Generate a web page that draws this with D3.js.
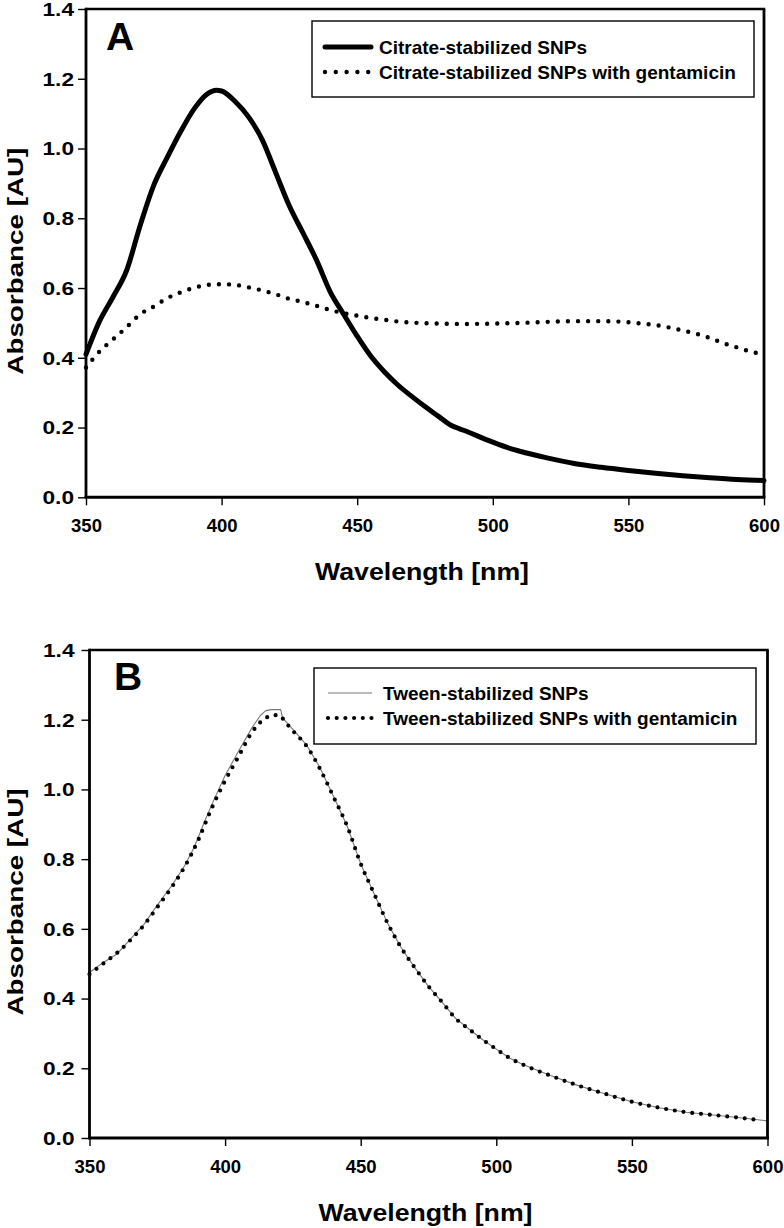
<!DOCTYPE html>
<html>
<head>
<meta charset="utf-8">
<script src="https://cdn.jsdelivr.net/npm/d3@7"></script>
<style>
  html, body { margin: 0; padding: 0; background: #fff; }
  svg text { font-family: "Liberation Sans", Arial, Helvetica, sans-serif; font-weight: bold; fill: #000; }
</style>
</head>
<body>
<svg id="chart" width="784" height="1228"></svg>
<script>
// ---------- Data ----------
const xTickValues = [350, 400, 450, 500, 550, 600];
const yTickValues = [0, 0.2, 0.4, 0.6, 0.8, 1.0, 1.2, 1.4];
const yTickLabels = ["0.0", "0.2", "0.4", "0.6", "0.8", "1.0", "1.2", "1.4"];

// Panel A: Citrate-stabilized SNPs
const citrateWl  = [350, 355, 360, 365, 370, 375, 380, 385, 390, 395, 398, 400, 405, 410, 415, 420, 425, 430, 435, 440, 445, 450, 455, 460, 465, 470, 475, 480, 484, 490, 500, 506, 510, 520, 530, 540, 550, 560, 570, 580, 590, 600];
const citrateAbs = [0.41, 0.505, 0.575, 0.651, 0.78, 0.895, 0.975, 1.05, 1.115, 1.158, 1.167, 1.165, 1.135, 1.09, 1.025, 0.93, 0.835, 0.758, 0.68, 0.59, 0.525, 0.462, 0.405, 0.36, 0.322, 0.29, 0.26, 0.232, 0.209, 0.19, 0.158, 0.141, 0.132, 0.113, 0.097, 0.086, 0.077, 0.069, 0.062, 0.056, 0.051, 0.048];

// Panel A: Citrate-stabilized SNPs with gentamicin
const citrateGentWl  = [350, 355, 360, 365, 370, 375, 380, 385, 390, 395, 400, 405, 410, 415, 420, 425, 430, 435, 440, 445, 450, 455, 460, 465, 470, 480, 490, 500, 510, 520, 530, 540, 550, 555, 560, 565, 570, 575, 580, 585, 590, 595, 600];
const citrateGentAbs = [0.372, 0.418, 0.453, 0.488, 0.525, 0.547, 0.571, 0.588, 0.601, 0.609, 0.611, 0.609, 0.602, 0.593, 0.582, 0.569, 0.560, 0.549, 0.537, 0.528, 0.521, 0.514, 0.509, 0.504, 0.501, 0.498, 0.497, 0.498, 0.500, 0.503, 0.505, 0.505, 0.502, 0.498, 0.494, 0.487, 0.478, 0.469, 0.457, 0.442, 0.430, 0.418, 0.410];

// Panel B: Tween-stabilized SNPs
const tweenWl  = [350, 355, 360, 365, 370, 375, 378, 380, 385, 388, 390, 392, 395, 400, 405, 410, 413, 415, 417, 420.5, 421.2, 425, 430, 435, 440, 445, 450, 455, 460, 465, 470, 475, 480, 485, 490, 495, 500, 505, 510, 520, 530, 540, 550, 560, 570, 580, 590, 600];
const tweenAbs = [0.475, 0.503, 0.527, 0.570, 0.612, 0.668, 0.700, 0.720, 0.780, 0.825, 0.860, 0.900, 0.955, 1.040, 1.110, 1.178, 1.212, 1.226, 1.229, 1.229, 1.205, 1.172, 1.128, 1.062, 0.980, 0.895, 0.787, 0.700, 0.615, 0.545, 0.488, 0.435, 0.390, 0.343, 0.312, 0.282, 0.255, 0.229, 0.210, 0.179, 0.151, 0.127, 0.104, 0.087, 0.074, 0.066, 0.058, 0.049];

// Panel B: Tween-stabilized SNPs with gentamicin
const tweenGentWl  = [350, 355, 360, 365, 370, 375, 380, 385, 390, 395, 400, 405, 410, 415, 418, 420, 422, 425, 430, 435, 440, 445, 450, 455, 460, 465, 470, 475, 480, 485, 490, 495, 500, 505, 510, 520, 530, 540, 550, 560, 570, 580, 590, 598];
const tweenGentAbs = [0.470, 0.500, 0.530, 0.567, 0.610, 0.662, 0.716, 0.777, 0.853, 0.945, 1.025, 1.095, 1.165, 1.205, 1.213, 1.213, 1.195, 1.168, 1.125, 1.059, 0.978, 0.895, 0.787, 0.700, 0.615, 0.545, 0.488, 0.435, 0.390, 0.343, 0.312, 0.282, 0.255, 0.229, 0.210, 0.179, 0.151, 0.127, 0.104, 0.087, 0.074, 0.066, 0.058, 0.050];

const legendA = ["Citrate-stabilized SNPs", "Citrate-stabilized SNPs with gentamicin"];
const legendB = ["Tween-stabilized SNPs", "Tween-stabilized SNPs with gentamicin"];

const zip = (xs, ys) => xs.map((x, i) => ({ x: x, y: ys[i] }));

// ---------- Drawing ----------
const svg = d3.select("#chart");

function drawPanel(cfg) {
  const g = svg.append("g");
  const x = d3.scaleLinear().domain([350, 600]).range([cfg.left, cfg.right]);
  const y = d3.scaleLinear().domain([0, 1.4]).range([cfg.bottom, cfg.top]);

  // Series
  cfg.series.forEach(s => {
    const line = d3.line().x(d => x(d.x)).y(d => y(d.y)).curve(s.curve);
    g.append("path")
      .datum(zip(s.wl, s.abs))
      .attr("d", line)
      .attr("fill", "none")
      .attr("stroke", s.color)
      .attr("stroke-width", s.width)
      .attr("stroke-linecap", s.cap)
      .attr("stroke-linejoin", "round")
      .attr("stroke-dasharray", s.dash);
  });

  // Frame: top and right
  g.append("line").attr("x1", cfg.left).attr("x2", cfg.right + 1.2)
    .attr("y1", cfg.top).attr("y2", cfg.top).attr("stroke", "#000").attr("stroke-width", 2.6);
  g.append("line").attr("x1", cfg.right).attr("x2", cfg.right)
    .attr("y1", cfg.top).attr("y2", cfg.bottom).attr("stroke", "#000").attr("stroke-width", 2.8);

  // Y axis
  const yAxis = d3.axisLeft(y).tickValues(yTickValues).tickSize(8)
    .tickFormat((d, i) => yTickLabels[i]);
  const ya = g.append("g").attr("transform", `translate(${cfg.left},0)`).call(yAxis);
  ya.select(".domain").attr("stroke", "#000").attr("stroke-width", 2.8)
    .attr("d", `M0,${cfg.top - 1.3}V${cfg.bottom}`);
  ya.selectAll(".tick line").attr("stroke", "#000").attr("stroke-width", 1.4);
  ya.selectAll(".tick text")
    .attr("x", -cfg.yLabelGap)
    .attr("dy", "0.36em")
    .attr("textLength", 31.5)
    .attr("lengthAdjust", "spacingAndGlyphs")
    .style("font-size", "17.5px");

  // X axis
  const xAxis = d3.axisBottom(x).tickValues(xTickValues).tickSize(8).tickFormat(d3.format("d"));
  const xa = g.append("g").attr("transform", `translate(0,${cfg.bottom})`).call(xAxis);
  xa.select(".domain").attr("stroke", "#000").attr("stroke-width", 3)
    .attr("d", `M${cfg.left - 1.4},0H${cfg.right + 1.4}`);
  xa.selectAll(".tick line").attr("stroke", "#000").attr("stroke-width", 1.4);
  xa.selectAll(".tick text")
    .attr("y", 35)
    .attr("dy", 0)
    .style("font-size", "18.5px");

  // Axis titles
  g.append("text")
    .attr("x", (cfg.left + cfg.right) / 2 - 3)
    .attr("y", cfg.bottom + 83)
    .attr("text-anchor", "middle")
    .attr("textLength", 214)
    .attr("lengthAdjust", "spacingAndGlyphs")
    .style("font-size", "24px")
    .text("Wavelength [nm]");
  g.append("text")
    .attr("transform", `translate(23,${(cfg.top + cfg.bottom) / 2 + 8}) rotate(-90)`)
    .attr("text-anchor", "middle")
    .attr("textLength", 227)
    .attr("lengthAdjust", "spacingAndGlyphs")
    .style("font-size", "21.5px")
    .text("Absorbance [AU]");

  // Panel letter
  g.append("text")
    .attr("x", cfg.letterX).attr("y", cfg.letterY)
    .style("font-size", "39px")
    .text(cfg.letter);

  // Legend
  const lg = cfg.legend;
  g.append("rect")
    .attr("x", lg.x0).attr("y", lg.y0)
    .attr("width", lg.x1 - lg.x0).attr("height", lg.y1 - lg.y0)
    .attr("fill", "#fff").attr("stroke", "#000").attr("stroke-width", 1.4);
  cfg.series.forEach((s, i) => {
    const ry = lg.rows[i];
    g.append("line")
      .attr("x1", lg.sx0).attr("x2", s.legendEnd)
      .attr("y1", ry).attr("y2", ry)
      .attr("stroke", s.color)
      .attr("stroke-width", s.width)
      .attr("stroke-linecap", s.cap)
      .attr("stroke-dasharray", s.legendDash || s.dash);
    g.append("text")
      .attr("x", lg.tx).attr("y", ry + 7)
      .style("font-size", "19px")
      .text(lg.labels[i]);
  });
}

drawPanel({
  top: 9, bottom: 497.3, left: 86, right: 764,
  yLabelGap: 12,
  letter: "A", letterX: 106, letterY: 50,
  series: [
    { wl: citrateWl, abs: citrateAbs, color: "#000", width: 5, cap: "round", dash: null,
      curve: d3.curveMonotoneX, legendEnd: 371 },
    { wl: citrateGentWl, abs: citrateGentAbs, color: "#000", width: 4.4, cap: "round", dash: "0 10.1",
      curve: d3.curveMonotoneX, legendEnd: 369, legendDash: "0 10.8" }
  ],
  legend: { x0: 312, x1: 754, y0: 21, y1: 97, rows: [47, 72], sx0: 325, tx: 379, labels: legendA }
});

drawPanel({
  top: 650, bottom: 1138, left: 89.5, right: 767.5,
  yLabelGap: 15,
  letter: "B", letterX: 114, letterY: 690,
  series: [
    { wl: tweenWl, abs: tweenAbs, color: "#777", width: 1.1, cap: "butt", dash: null,
      curve: d3.curveLinear, legendEnd: 372 },
    { wl: tweenGentWl, abs: tweenGentAbs, color: "#000", width: 4.2, cap: "round", dash: "0 8.8",
      curve: d3.curveMonotoneX, legendEnd: 372, legendDash: "0 8.7" }
  ],
  legend: { x0: 314, x1: 756, y0: 668, y1: 744, rows: [693, 718], sx0: 328, tx: 383, labels: legendB }
});
</script>
</body>
</html>
